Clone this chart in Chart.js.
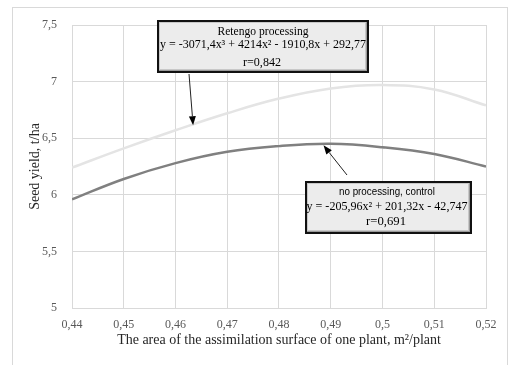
<!DOCTYPE html>
<html>
<head>
<meta charset="utf-8">
<script src="https://cdn.jsdelivr.net/npm/chart.js@4/dist/chart.umd.min.js"></script>
<style>
  html, body { margin: 0; padding: 0; background: #fff; }
  #wrap { position: relative; width: 509px; height: 365px; }
</style>
</head>
<body>
<div id="wrap"><canvas id="myChart" width="509" height="365"></canvas></div>
<script>
// Values
const areaValues = [0.44, 0.45, 0.46, 0.47, 0.48, 0.49, 0.50, 0.51, 0.52];
const retengoYield = [6.24, 6.41, 6.57, 6.72, 6.85, 6.94, 6.97, 6.93, 6.79];
const controlYield = [5.96, 6.14, 6.28, 6.38, 6.43, 6.45, 6.42, 6.36, 6.25];

const retengoNote = ['Retengo processing', 'y = -3071,4x\u00b3 + 4214x\u00b2 - 1910,8x + 292,77', 'r=0,842'];
const controlNote = ['no processing, control', 'y = -205,96x\u00b2 + 201,32x - 42,747', 'r=0,691'];
// arrow tips, in data units
const retengoTip = { x: 0.4634, y: 6.615 };
const controlTip = { x: 0.4886, y: 6.437 };

const comma = v => String(Math.round(v * 100) / 100).replace('.', ',');

// draw text squeezed/stretched to a given width
function fitText(ctx, text, cx, cy, width, font) {
  ctx.font = font;
  const w = ctx.measureText(text).width;
  ctx.save();
  ctx.translate(cx, cy);
  ctx.scale(width / w, 1);
  ctx.fillText(text, 0, 0);
  ctx.restore();
}

function drawBox(ctx, x, y, w, h) {
  ctx.fillStyle = '#111';
  ctx.fillRect(x, y, w, h);
  ctx.fillStyle = '#9a9a9a';
  ctx.fillRect(x + 2, y + 2, w - 4, h - 4);
  ctx.fillStyle = '#c8c8c8';
  ctx.fillRect(x + 2, y + 2, w - 5, h - 5);
  ctx.fillStyle = '#ececec';
  ctx.fillRect(x + 3, y + 3, w - 7, h - 7);
}

function drawArrow(ctx, x1, y1, x2, y2) {
  const a = Math.atan2(y2 - y1, x2 - x1);
  const len = 9, half = 3.5;
  ctx.strokeStyle = '#222';
  ctx.lineWidth = 1;
  ctx.beginPath();
  ctx.moveTo(x1, y1);
  ctx.lineTo(x2 - Math.cos(a) * len, y2 - Math.sin(a) * len);
  ctx.stroke();
  ctx.fillStyle = '#000';
  ctx.beginPath();
  ctx.moveTo(x2, y2);
  ctx.lineTo(x2 - Math.cos(a) * len - Math.sin(a) * half, y2 - Math.sin(a) * len + Math.cos(a) * half);
  ctx.lineTo(x2 - Math.cos(a) * len + Math.sin(a) * half, y2 - Math.sin(a) * len - Math.cos(a) * half);
  ctx.closePath();
  ctx.fill();
}

const notesPlugin = {
  id: 'notes',
  beforeDraw(chart) {
    const ctx = chart.ctx;
    ctx.save();
    ctx.strokeStyle = '#d9d9d9';
    ctx.lineWidth = 1;
    ctx.strokeRect(12.5, 7.5, 495, 380);
    ctx.restore();
  },
  afterDatasetsDraw(chart) {
    const ctx = chart.ctx;
    const xs = chart.scales.x, ys = chart.scales.y;
    ctx.save();
    // Retengo note
    drawArrow(ctx, 189, 74, xs.getPixelForValue(retengoTip.x), ys.getPixelForValue(retengoTip.y));
    drawBox(ctx, 157, 20, 212, 53);
    ctx.fillStyle = '#000';
    ctx.textAlign = 'center';
    ctx.textBaseline = 'middle';
    fitText(ctx, retengoNote[0], 263, 32, 91, '13px "Liberation Serif"');
    fitText(ctx, retengoNote[1], 263, 45, 206, '13px "Liberation Serif"');
    fitText(ctx, retengoNote[2], 262, 63, 38, '13px "Liberation Serif"');
    // control note
    drawArrow(ctx, 347, 175, xs.getPixelForValue(controlTip.x), ys.getPixelForValue(controlTip.y));
    drawBox(ctx, 305, 181, 167, 53);
    ctx.fillStyle = '#000';
    fitText(ctx, controlNote[0], 387, 192, 96, '11px "Liberation Sans"');
    fitText(ctx, controlNote[1], 387, 207, 161, '13px "Liberation Serif"');
    fitText(ctx, controlNote[2], 386, 222, 40, '13px "Liberation Serif"');
    ctx.restore();
  }
};

const data = {
  datasets: [
    {
      label: 'Retengo processing',
      data: areaValues.map((x, i) => ({ x: x, y: retengoYield[i] })),
      borderColor: '#e4e4e4',
      borderWidth: 2.5,
      pointRadius: 0,
      tension: 0.4,
      fill: false,
    },
    {
      label: 'no processing, control',
      data: areaValues.map((x, i) => ({ x: x, y: controlYield[i] })),
      borderColor: '#808080',
      borderWidth: 2.5,
      pointRadius: 0,
      tension: 0.4,
      fill: false,
    }
  ]
};

const tickFont = { family: 'Liberation Serif', size: 12 };
const titleFont = { family: 'Liberation Serif', size: 14 };

const options = {
  responsive: false,
  animation: false,
  layout: { padding: { left: 12, top: 25, right: 23, bottom: 0 } },
  plugins: { legend: { display: false }, tooltip: { enabled: false } },
  scales: {
    x: {
      type: 'linear',
      min: 0.44,
      max: 0.52,
      afterFit(scale) { scale.height = 57; },
      ticks: { stepSize: 0.01, color: '#595959', font: tickFont, padding: 10, maxRotation: 0,
        callback: v => comma(v) },
      grid: { color: '#d9d9d9', drawTicks: false },
      border: { color: '#d9d9d9' },
      title: { display: true, text: 'The area of the assimilation surface of one plant, m\u00b2/plant',
        color: '#262626', font: titleFont, padding: { top: 0, bottom: 16 } }
    },
    y: {
      min: 5,
      max: 7.5,
      afterFit(scale) { scale.width = 60; },
      ticks: { stepSize: 0.5, color: '#595959', font: tickFont, padding: 15,
        callback: v => comma(v) },
      grid: { color: '#d9d9d9', drawTicks: false },
      border: { color: '#d9d9d9' },
      title: { display: true, text: 'Seed yield, t/ha', color: '#262626', font: titleFont,
        padding: { top: 15, bottom: 0 } }
    }
  }
};

const ctx = document.getElementById('myChart').getContext('2d');
const myChart = new Chart(ctx, {
  type: 'line',
  data: data,
  options: options,
  plugins: [notesPlugin],
});
</script>
</body>
</html>
